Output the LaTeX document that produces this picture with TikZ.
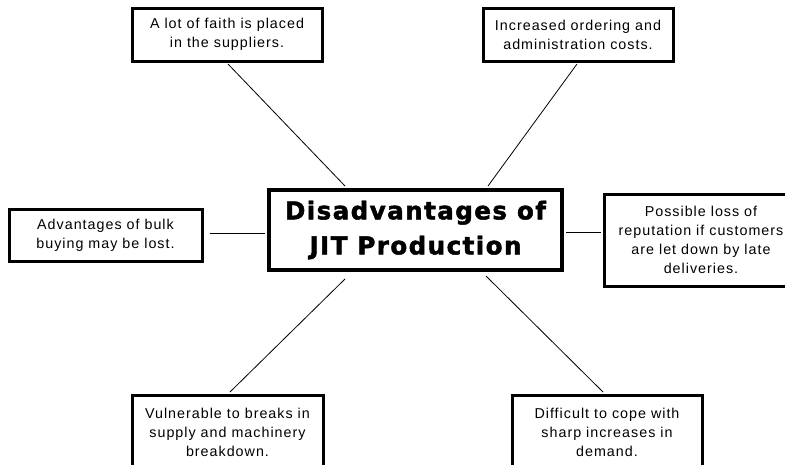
\documentclass[tikz,border=0pt]{standalone}
\usepackage{fontspec}
\setmainfont{Liberation Sans}[LetterSpace=7]
\newfontfamily\titlefont{DejaVu Sans Bold}[LetterSpace=6, FakeBold=2]
\usetikzlibrary{calc}
\tikzset{
  idea/.style={draw=black, line width=3pt, fill=white, inner sep=0pt, align=center,
    font={\fontsize{14.3}{19}\selectfont}, text=black},
  central/.style={draw=black, line width=4pt, fill=white, inner sep=0pt, align=center,
    font={\titlefont\fontsize{24.5}{35}\selectfont}},
  link/.style={draw=black, line width=0.8pt}
}
\begin{document}
\begin{tikzpicture}[x=1pt,y=-1pt]
\useasboundingbox[fill=white] (0,0) rectangle (785,464);
\node[central, minimum width=293pt, minimum height=80pt] (c) at (415.5,230) {Disadvantages of\\JIT Production};
\node[idea, minimum width=190pt, minimum height=53pt] (b1) at (227,34.5) {A lot of faith is placed\\in the suppliers.};
\node[idea, minimum width=190pt, minimum height=53pt] (b2) at (578,34.5) {Increased ordering and\\administration costs.};
\node[idea, minimum width=193pt, minimum height=52pt] (b3) at (105.5,235) {Advantages of bulk\\buying may be lost.};
\node[idea, minimum width=194pt, minimum height=92pt] (b6) at (701,240) {Possible loss of\\reputation if customers\\are let down by late\\deliveries.};
\node[idea, minimum width=191pt, minimum height=74pt] (b4) at (227.5,432) {Vulnerable to breaks in\\supply and machinery\\breakdown.};
\node[idea, minimum width=190pt, minimum height=74pt] (b5) at (607,432) {Difficult to cope with\\sharp increases in\\demand.};
\draw[link] ($(b1.south)+(1,1.5)$) -- ($(c.north west)+(78,-2)$);
\draw[link] ($(b2.south)+(-1,1.5)$) -- ($(c.north east)+(-76,-2)$);
\draw[link] ($(b3.east)+(6,-2)$) -- ($(c.west)+(-2,3)$);
\draw[link] ($(c.east)+(2,2)$) -- ($(b6.west)+(-1.5,-8)$);
\draw[link] ($(c.south west)+(78,7)$) -- ($(b4.north)+(2.5,-1.5)$);
\draw[link] ($(c.south east)+(-78,4)$) -- ($(b5.north)+(-4,-1.5)$);
\end{tikzpicture}
\end{document}
